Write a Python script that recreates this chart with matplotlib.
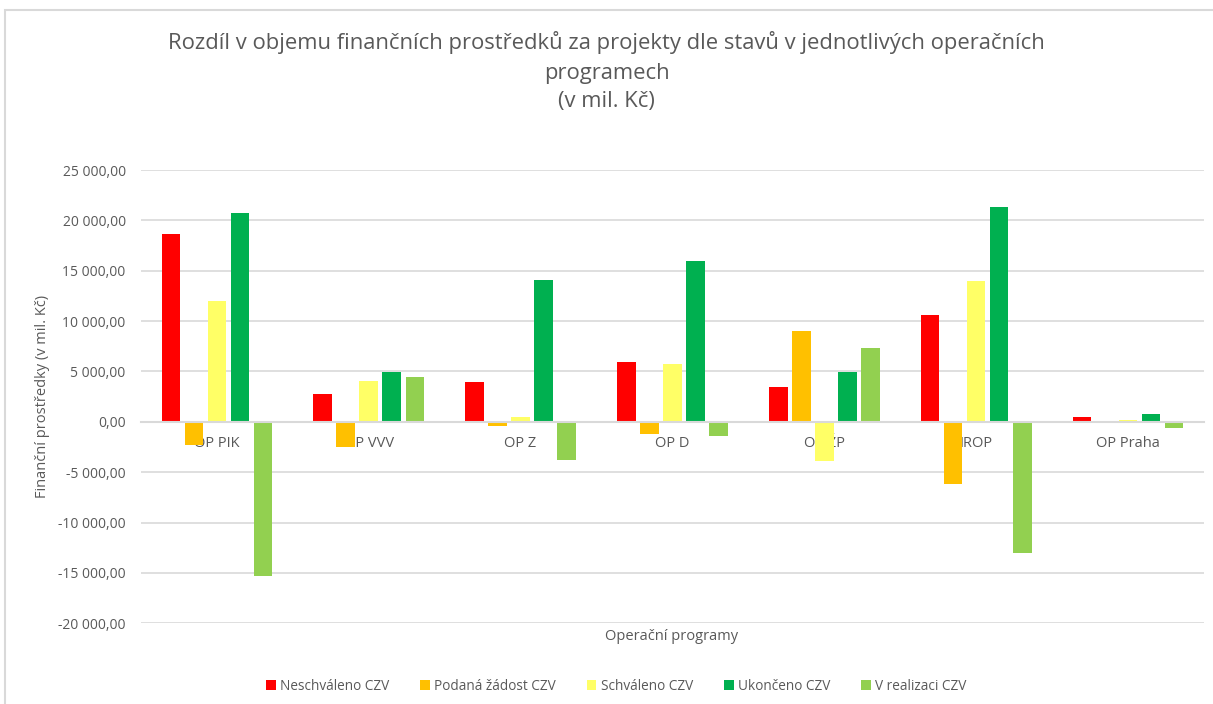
import matplotlib.pyplot as plt
import matplotlib as mpl
import numpy as np
from matplotlib.ticker import FuncFormatter, MultipleLocator
from matplotlib.patches import Rectangle


# ==========================
# style
# ==========================

mpl.rcParams["font.family"] = ["Open Sans", "DejaVu Sans"]
TEXT_COLOR = "#595959"
GRID_COLOR = "#d9d9d9"


# ==========================
# Data (mil. Kč)
# ==========================

programs = ["OP PIK", "OP VVV", "OP Z", "OP D", "OP ŽP", "IROP", "OP Praha"]

neschvaleno = [18650, 2780, 3940, 5950, 3450, 10570, 500]
podana_zadost = [-2280, -2450, -370, -1220, 9030, -6200, -30]
schvaleno = [12030, 4070, 470, 5780, -3930, 14000, 150]
ukonceno = [20760, 4990, 14050, 15940, 4930, 21300, 750]
v_realizaci = [-15350, 4500, -3800, -1420, 7380, -13000, -650]

series_names = [
    "Neschváleno CZV",
    "Podaná žádost CZV",
    "Schváleno CZV",
    "Ukončeno CZV",
    "V realizaci CZV",
]
series_colors = ["#FF0000", "#FFC000", "#FFFF66", "#00B050", "#92D050"]
series_values = [neschvaleno, podana_zadost, schvaleno, ukonceno, v_realizaci]


# ==========================
# Figure
# ==========================

fig = plt.figure(figsize=(12.13, 7.04), dpi=100)
ax = fig.add_axes([0.1162, 0.1146, 0.8764, 0.6439])

# chart frame
fig.patches.append(
    Rectangle(
        (0.004, -0.01),
        1.2,
        0.996,
        transform=fig.transFigure,
        fill=False,
        edgecolor=GRID_COLOR,
        linewidth=1.5,
    )
)

x = np.arange(len(programs))
slot = 0.1515
bar_w = 0.122

for i, (name, color, vals) in enumerate(zip(series_names, series_colors, series_values)):
    ax.bar(
        x + (i - 2) * slot,
        vals,
        width=bar_w,
        color=color,
        label=name,
        zorder=3,
    )

ax.set_xlim(-0.5, len(programs) - 0.5)
ax.set_ylim(-20000, 25000)
ax.yaxis.set_major_locator(MultipleLocator(5000))


def cz_fmt(v, pos):
    return f"{v:,.2f}".replace(",", " ").replace(".", ",")


ax.yaxis.set_major_formatter(FuncFormatter(cz_fmt))

ax.grid(axis="y", color=GRID_COLOR, linewidth=1.2, zorder=0)
ax.set_axisbelow(True)

for side in ["top", "right", "left"]:
    ax.spines[side].set_visible(False)

ax.spines["bottom"].set_position(("data", 0))
ax.spines["bottom"].set_color(GRID_COLOR)
ax.spines["bottom"].set_linewidth(1.5)
ax.spines["bottom"].set_zorder(4)

ax.set_xticks(x)
ax.set_xticklabels(programs)
ax.tick_params(axis="x", length=0, pad=10, labelsize=10.5, labelcolor=TEXT_COLOR)
ax.tick_params(axis="y", length=0, pad=11, labelsize=10, labelcolor=TEXT_COLOR)
for lbl in ax.get_xticklabels():
    lbl.set_zorder(5)

ax.set_ylabel(
    "Finanční prostředky (v mil. Kč)",
    fontsize=10.5,
    color=TEXT_COLOR,
    labelpad=6,
)

fig.text(
    0.554,
    1 - 636 / 704,
    "Operační programy",
    ha="center",
    va="center",
    fontsize=10.5,
    color=TEXT_COLOR,
)

fig.text(
    0.5,
    1 - 72 / 704,
    "Rozdíl v objemu finančních prostředků za projekty dle stavů v jednotlivých operačních\nprogramech\n(v mil. Kč)",
    ha="center",
    va="center",
    fontsize=15.8,
    color=TEXT_COLOR,
    linespacing=1.5,
)

fig.legend(
    loc="center",
    bbox_to_anchor=(0.508, 1 - 686 / 704),
    ncol=5,
    frameon=False,
    fontsize=9.8,
    labelcolor=TEXT_COLOR,
    handlelength=0.7,
    handleheight=0.7,
    handletextpad=0.3,
    columnspacing=2.3,
)

fig.savefig("out.png", dpi=100)
